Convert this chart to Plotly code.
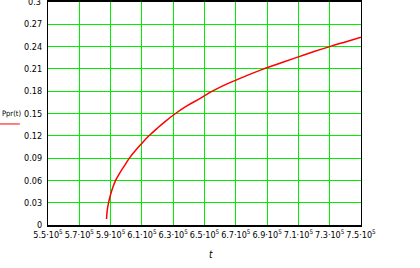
import plotly.graph_objects as go

t_vals = [587400, 587800, 588700, 590000, 591500, 593200, 596000, 599000, 602000,
          606000, 610000, 614500, 620000, 625000, 631500, 639000, 647000, 655000,
          665500, 676500, 687500, 700000, 710000, 720000, 730000, 740000, 750000]
ppr_vals = [0.008, 0.019, 0.030, 0.041, 0.051, 0.060, 0.0705, 0.0802, 0.090,
            0.1005, 0.110, 0.120, 0.1305, 0.1395, 0.150, 0.1605, 0.170, 0.180,
            0.1908, 0.2006, 0.2097, 0.219, 0.2262, 0.2333, 0.240, 0.2463, 0.2525]

x_tick_vals = [550000, 570000, 590000, 610000, 630000, 650000, 670000, 690000, 710000, 730000, 750000]
x_tick_text = ["5.5·10<sup>5</sup>", "5.7·10<sup>5</sup>", "5.9·10<sup>5</sup>", "6.1·10<sup>5</sup>",
               "6.3·10<sup>5</sup>", "6.5·10<sup>5</sup>", "6.7·10<sup>5</sup>", "6.9·10<sup>5</sup>",
               "7.1·10<sup>5</sup>", "7.3·10<sup>5</sup>", "7.5·10<sup>5</sup>"]
y_tick_vals = [0, 0.03, 0.06, 0.09, 0.12, 0.15, 0.18, 0.21, 0.24, 0.27, 0.3]
y_tick_text = ["0", "0.03", "0.06", "0.09", "0.12", "0.15", "0.18", "0.21", "0.24", "0.27", "0.3"]

font_family = "Liberation Sans Narrow, DejaVu Sans Condensed, Liberation Sans, Arial"

fig = go.Figure()
fig.add_trace(go.Scatter(x=t_vals, y=ppr_vals, mode="lines", line_shape="spline",
                         line=dict(color="#ff0000", width=1.5), showlegend=False))

fig.update_layout(
    width=420, height=268,
    margin=dict(l=48, r=59, t=0, b=43),
    paper_bgcolor="white", plot_bgcolor="white",
    font=dict(family=font_family, size=9, color="black"),
    xaxis=dict(range=[550000, 750000], tickvals=x_tick_vals, ticktext=x_tick_text,
               showgrid=True, gridcolor="#00ee00", gridwidth=1.2,
               showline=True, linecolor="black", linewidth=1.5, mirror=True,
               ticks="", zeroline=False, tickangle=0,
               tickfont=dict(size=9, family=font_family)),
    yaxis=dict(range=[0, 0.3], tickvals=y_tick_vals[:-1], ticktext=y_tick_text[:-1],
               showgrid=True, gridcolor="#00ee00", gridwidth=1.2,
               showline=True, linecolor="black", linewidth=1.2, mirror=True,
               ticks="", zeroline=False, ticklabelstandoff=3,
               tickfont=dict(size=9, family=font_family)),
    annotations=[
        dict(text=y_tick_text[-1], x=-0.016, y=y_tick_vals[-1], xref="paper", yref="y",
             xanchor="right", yanchor="middle", showarrow=False,
             font=dict(size=9, family=font_family)),
        dict(text="Ppr(t)", x=-0.152, y=0.5, xref="paper", yref="paper",
             xanchor="left", yanchor="middle", showarrow=False,
             font=dict(size=7.5, family=font_family)),
        dict(text="<i>t</i>", x=0.52, y=-0.1, xref="paper", yref="paper",
             xanchor="center", yanchor="top", showarrow=False,
             font=dict(size=10, family=font_family)),
    ],
    shapes=[
        dict(type="line", xref="paper", yref="paper", x0=-0.154, x1=-0.09,
             y0=0.453, y1=0.453, line=dict(color="#ff0000", width=1)),
    ],
)

fig.write_html("out.html")
